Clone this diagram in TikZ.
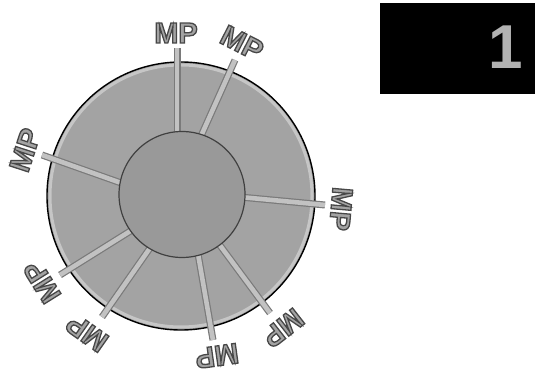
\documentclass[tikz,border=0pt]{standalone}
\usepackage{fontspec}
\setmainfont{Liberation Sans}
\newfontfamily\mpfont{Liberation Sans}
\definecolor{outerfill}{gray}{0.64}
\definecolor{innerfill}{gray}{0.60}
\definecolor{spokefill}{gray}{0.76}
\definecolor{spokeedge}{gray}{0.48}
\definecolor{mptext}{gray}{0.64}
\tikzset{
  spokeline/.style={line width=7pt, draw=spokeedge, line cap=butt},
  spokeinner/.style={line width=4.6pt, draw=spokefill, line cap=butt},
  mplabel/.style={font=\mpfont\bfseries\fontsize{29}{29}\selectfont, inner sep=0pt, text=mptext},
}
\newcommand{\mptxt}{\special{pdf:literal direct 2 Tr 1.3 w 0.28 G}MP\special{pdf:literal direct 0 Tr}}
\begin{document}
\begin{tikzpicture}[x=1pt,y=1pt]
\useasboundingbox (0,0) rectangle (535,372);
% outer disc
\node (outer) [circle, minimum size=268pt, fill=outerfill, draw=black, line width=1.4pt, inner sep=0pt] at (181,176) {};
\draw[gray!45, line width=3pt] (outer.center) circle (131pt);
% spokes
\coordinate (s1a) at (177,238); \coordinate (s1b) at (177,324);
\coordinate (s2a) at (201,236); \coordinate (s2b) at (235,312);
\coordinate (s3a) at (240,175); \coordinate (s3b) at (325,167);
\coordinate (s4a) at (219,128); \coordinate (s4b) at (270,59);
\coordinate (s5a) at (197,124); \coordinate (s5b) at (213,32);
\coordinate (s6a) at (150,124); \coordinate (s6b) at (102,55);
\coordinate (s7a) at (132,142); \coordinate (s7b) at (60,97);
\coordinate (s8a) at (124,188); \coordinate (s8b) at (42,217);
\foreach \i in {1,...,8}{
  \draw[spokeline] (s\i a) -- (s\i b);
  \draw[spokeinner] (s\i a) -- (s\i b);
}
% inner disc
\node (inner) [circle, minimum size=126pt, fill=innerfill, draw=black!75, line width=1.2pt, inner sep=0pt] at (182,177.5) {};
% labels
\node (m1) [mplabel, rotate=0]    at (176,339) {\mptxt};
\node (m2) [mplabel, rotate=-27]  at (242,329) {\mptxt};
\node (m3) [mplabel, rotate=-95]  at (341,163) {\mptxt};
\node (m4) [mplabel, rotate=-142] at (283,44)  {\mptxt};
\node (m5) [mplabel, rotate=-172] at (217,16)  {\mptxt};
\node (m6) [mplabel, rotate=145]  at (87,39)   {\mptxt};
\node (m7) [mplabel, rotate=122]  at (42,90)   {\mptxt};
\node (m8) [mplabel, rotate=72]   at (25,222)  {\mptxt};
% black box
\node (box) [fill=black, minimum width=155pt, minimum height=91pt, inner sep=0pt, anchor=north west] at (380,369) {};
\node (one) [font=\bfseries\fontsize{62}{62}\selectfont, text=gray!60, inner sep=0pt] at (506,325) {1};
\end{tikzpicture}
\end{document}
